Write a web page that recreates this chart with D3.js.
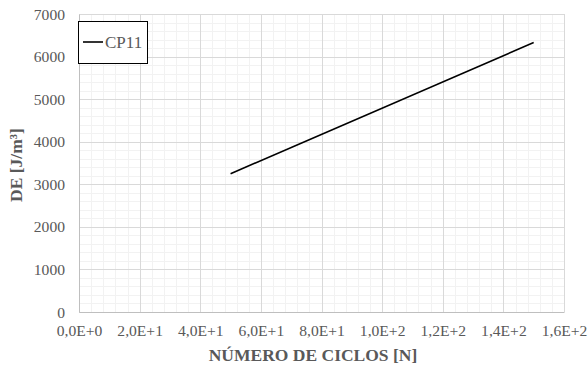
<!DOCTYPE html>
<html>
<head>
<meta charset="utf-8">
<script src="https://cdn.jsdelivr.net/npm/d3@7"></script>
<style>
  html, body { margin: 0; padding: 0; background: #fff; }
  svg { display: block; }
</style>
</head>
<body>
<svg id="chart" width="588" height="370"></svg>
<script>
// Series: energy density vs. number of cycles
const seriesName = "CP11";
const cycles = [50, 150];
const energy = [3250, 6330];

// Axis ticks
const xTicks = [0, 20, 40, 60, 80, 100, 120, 140, 160];
const xTickLabels = ["0,0E+0", "2,0E+1", "4,0E+1", "6,0E+1", "8,0E+1", "1,0E+2", "1,2E+2", "1,4E+2", "1,6E+2"];
const yTicks = [0, 1000, 2000, 3000, 4000, 5000, 6000, 7000];

const xTitle = "NÚMERO DE CICLOS [N]";
const yTitle = "DE [J/m³]";

const FONT = "'Liberation Serif', 'Times New Roman', serif";
const TXT = "#595959";

const svg = d3.select("#chart");
const m = { left: 79, top: 14, right: 564, bottom: 312 };

const x = d3.scaleLinear().domain([0, 160]).range([m.left, m.right]);
const y = d3.scaleLinear().domain([0, 7000]).range([m.bottom, m.top]);

// Minor grid
const xMinor = d3.range(0, 161, 4);
const yMinor = d3.range(0, 7001, 200);
const grid = svg.append("g");
grid.selectAll(".xm").data(xMinor).join("line")
  .attr("x1", d => Math.round(x(d)) + 0.5).attr("x2", d => Math.round(x(d)) + 0.5)
  .attr("y1", m.top).attr("y2", m.bottom)
  .attr("stroke", "#f2f2f2").attr("stroke-width", 1);
grid.selectAll(".ym").data(yMinor).join("line")
  .attr("y1", d => Math.round(y(d)) + 0.5).attr("y2", d => Math.round(y(d)) + 0.5)
  .attr("x1", m.left).attr("x2", m.right)
  .attr("stroke", "#f2f2f2").attr("stroke-width", 1);

// Major grid
grid.selectAll(".xM").data(xTicks).join("line")
  .attr("x1", d => Math.round(x(d)) + 0.5).attr("x2", d => Math.round(x(d)) + 0.5)
  .attr("y1", m.top).attr("y2", m.bottom)
  .attr("stroke", "#d9d9d9").attr("stroke-width", 1);
grid.selectAll(".yM").data(yTicks).join("line")
  .attr("y1", d => Math.round(y(d)) + 0.5).attr("y2", d => Math.round(y(d)) + 0.5)
  .attr("x1", m.left).attr("x2", m.right)
  .attr("stroke", "#d9d9d9").attr("stroke-width", 1);

// Axes
const xAxis = d3.axisBottom(x).tickValues(xTicks)
  .tickFormat((d, i) => xTickLabels[i]).tickSize(0).tickPadding(13);
const gx = svg.append("g").attr("transform", `translate(0,${m.bottom})`).call(xAxis);
gx.attr("font-family", null).attr("font-size", null);
gx.select(".domain").attr("stroke", "#bfbfbf");
gx.selectAll("text").style("font-family", FONT).style("font-size", "15.6px").attr("fill", TXT);

const yAxis = d3.axisLeft(y).tickValues(yTicks).tickSize(0).tickPadding(14)
  .tickFormat(d3.format("d"));
const gy = svg.append("g").attr("transform", `translate(${m.left},0)`).call(yAxis);
gy.attr("font-family", null).attr("font-size", null);
gy.select(".domain").attr("stroke", "#bfbfbf");
gy.selectAll("text").style("font-family", FONT).style("font-size", "15.6px").attr("fill", TXT);

// Data line
const line = d3.line().x(d => x(d[0])).y(d => y(d[1]));
svg.append("path")
  .datum(cycles.map((c, i) => [c, energy[i]]))
  .attr("d", line)
  .attr("fill", "none")
  .attr("stroke", "#000")
  .attr("stroke-width", 1.6);

// Axis titles
svg.append("text")
  .attr("x", 313).attr("y", 361)
  .attr("text-anchor", "middle")
  .style("font-family", FONT).style("font-size", "17.5px").style("font-weight", "bold")
  .attr("fill", TXT)
  .text(xTitle);
svg.append("text")
  .attr("transform", `translate(22,165) rotate(-90)`)
  .attr("text-anchor", "middle")
  .style("font-family", FONT).style("font-size", "17.5px").style("font-weight", "bold")
  .attr("fill", TXT)
  .text(yTitle);

// Legend
const lg = svg.append("g");
lg.append("rect")
  .attr("x", 78.5).attr("y", 21.5).attr("width", 69).attr("height", 42)
  .attr("fill", "#fff").attr("stroke", "#000").attr("stroke-width", 1);
lg.append("line")
  .attr("x1", 83).attr("x2", 103).attr("y1", 42).attr("y2", 42)
  .attr("stroke", "#000").attr("stroke-width", 1.6);
lg.append("text")
  .attr("x", 105).attr("y", 48)
  .style("font-family", FONT).style("font-size", "17px")
  .attr("fill", TXT)
  .text(seriesName);
</script>
</body>
</html>
